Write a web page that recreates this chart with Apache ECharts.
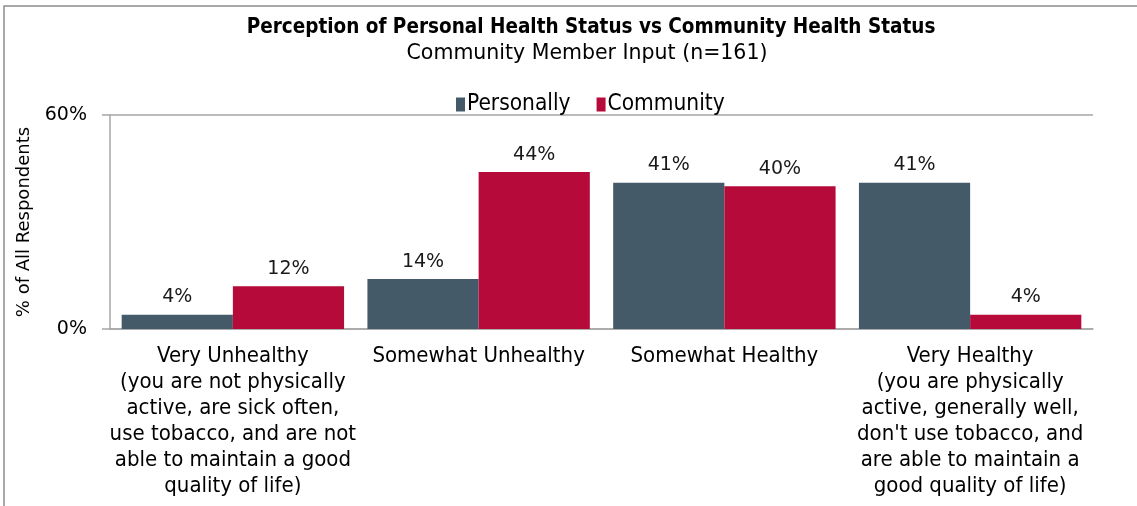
<!DOCTYPE html>
<html>
<head>
<meta charset="utf-8">
<script src="https://cdn.jsdelivr.net/npm/echarts@6/dist/echarts.min.js"></script>
<style>
  html, body { margin: 0; padding: 0; background: #ffffff; }
  #chart { width: 1137px; height: 506px; }
</style>
</head>
<body>
<div id="chart"></div>
<script>
// Survey responses: share of respondents per health rating
const categories = [
  'Very Unhealthy\n(you are not physically\nactive, are sick often,\nuse tobacco, and are not\nable to maintain a good\nquality of life)',
  'Somewhat Unhealthy',
  'Somewhat Healthy',
  'Very Healthy\n(you are physically\nactive, generally well,\ndon\'t use tobacco, and\nare able to maintain a\ngood quality of life)'
];
const personally = [4, 14, 41, 41];
const community = [12, 44, 40, 4];
const seriesNames = ['Personally', 'Community'];
const yTicks = [0, 60];

const chart = echarts.init(document.getElementById('chart'));

const labelStyle = {
  show: true,
  position: 'top',
  distance: 8,
  formatter: p => p.value + '%',
  color: '#1a1a1a',
  fontFamily: 'DejaVu Sans',
  fontSize: 19
};

chart.setOption({
  animation: false,
  backgroundColor: '#ffffff',
  title: [
    {
      text: 'Perception of Personal Health Status vs Community Health Status',
      left: 586, top: 12, textAlign: 'center',
      textStyle: { fontFamily: 'DejaVu Sans Condensed', fontWeight: 'bold', fontSize: 20.5, color: '#000' }
    },
    {
      text: 'Community Member Input (n=161)',
      left: 582, top: 38, textAlign: 'center',
      textStyle: { fontFamily: 'DejaVu Sans', fontWeight: 'normal', fontSize: 20.5, color: '#000' }
    }
  ],
  legend: {
    data: seriesNames,
    left: 451, top: 88,
    itemWidth: 9, itemHeight: 14, itemGap: 26,
    icon: 'rect',
    textStyle: { fontFamily: 'DejaVu Sans Condensed', fontSize: 22.5, color: '#000', padding: [0, 0, 0, -3] }
  },
  graphic: [
    {
      type: 'polyline',
      shape: { points: [[4, 506], [4, 6], [1137, 6]] },
      style: { stroke: '#8c8c8c', lineWidth: 1.5, fill: null }
    }
  ],
  grid: { left: 110, right: 44, top: 115, bottom: 177 },
  xAxis: {
    type: 'category',
    data: categories,
    axisLine: { lineStyle: { color: '#a6a6a6', width: 1.5 } },
    axisTick: { show: false },
    axisLabel: {
      interval: 0,
      margin: 14,
      lineHeight: 26,
      color: '#000',
      fontFamily: 'DejaVu Sans Condensed',
      fontSize: 22,
      verticalAlign: 'top'
    }
  },
  yAxis: {
    type: 'value',
    min: yTicks[0], max: yTicks[1], interval: 60,
    name: '% of All Respondents',
    nameLocation: 'middle',
    nameGap: 77,
    nameRotate: 90,
    nameTextStyle: { fontFamily: 'DejaVu Sans', fontSize: 18, color: '#000' },
    axisLine: { show: true, lineStyle: { color: '#a6a6a6', width: 1.5 } },
    axisTick: { show: true, length: 8, lineStyle: { color: '#a6a6a6', width: 1.5 } },
    splitLine: { show: true, lineStyle: { color: '#a6a6a6', width: 1.5 } },
    axisLabel: {
      formatter: v => v + '%',
      margin: 23,
      color: '#000',
      fontFamily: 'DejaVu Sans',
      fontSize: 19
    }
  },
  series: [
    {
      name: seriesNames[0], type: 'bar', data: personally,
      barGap: '0%', barCategoryGap: '9.5%',
      itemStyle: { color: '#455a69' },
      label: labelStyle
    },
    {
      name: seriesNames[1], type: 'bar', data: community,
      itemStyle: { color: '#b50a3a' },
      label: labelStyle
    }
  ]
});
</script>
</body>
</html>
